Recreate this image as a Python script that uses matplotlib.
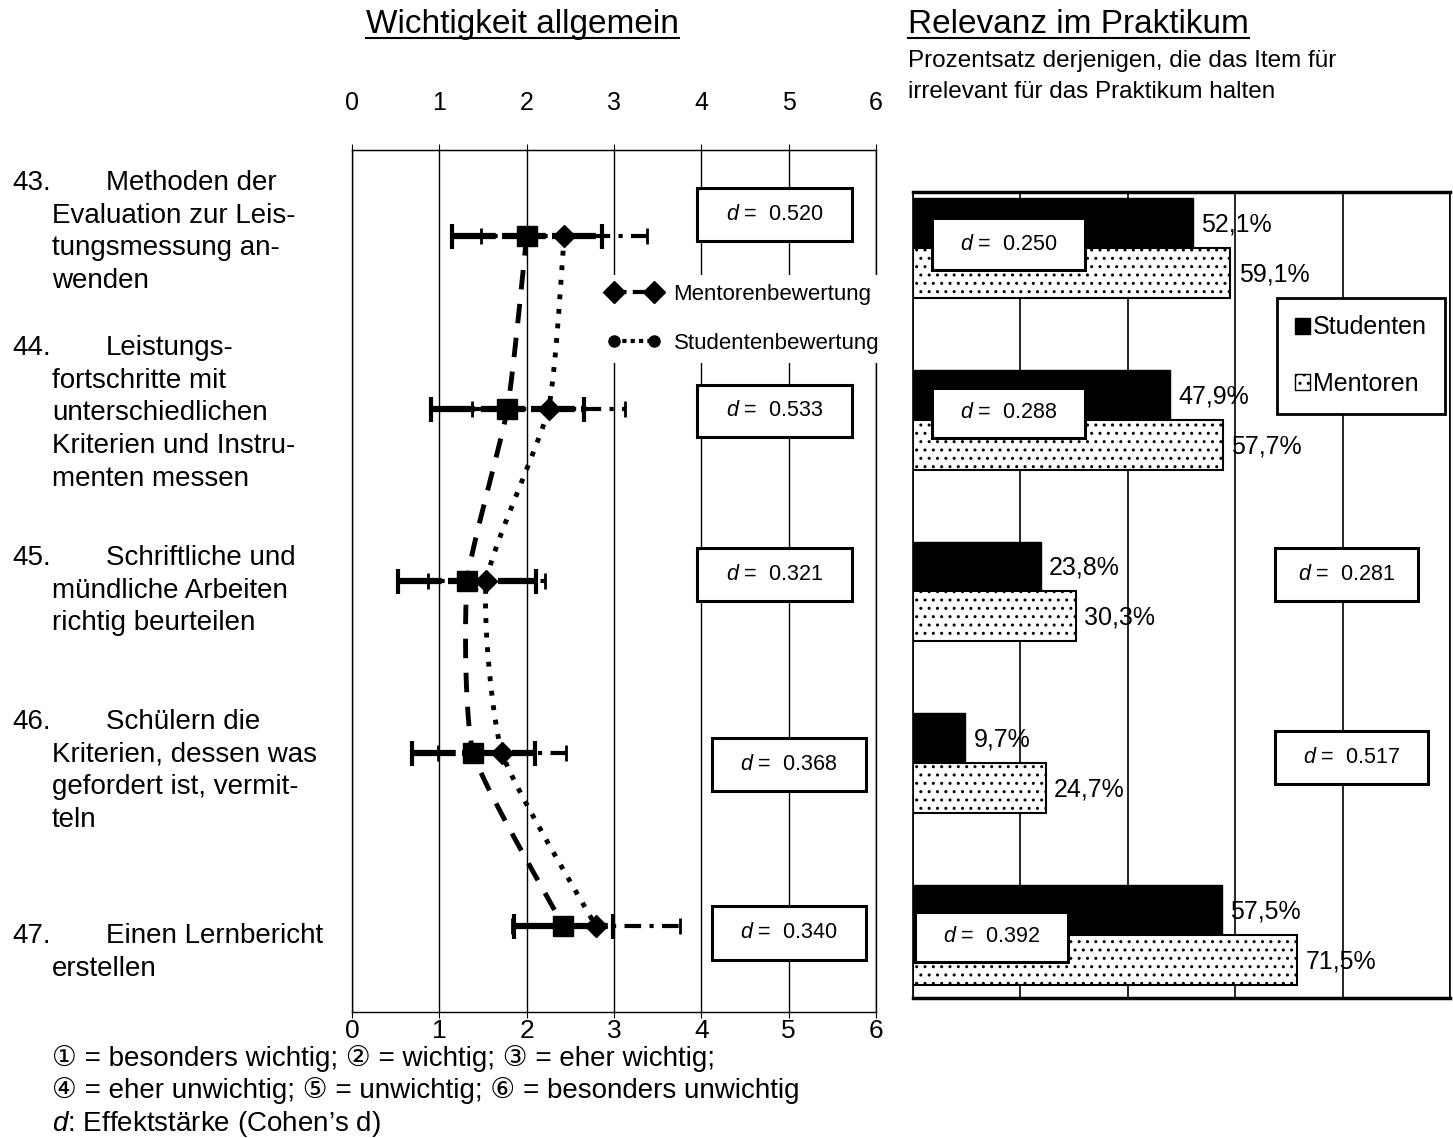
import matplotlib
matplotlib.use("Agg")
import matplotlib.pyplot as plt
import numpy as np
from matplotlib.lines import Line2D
from matplotlib.patches import Rectangle, Patch

# ---- data ---------------------------------------------------------------
item_no = ["43.", "44.", "45.", "46.", "47."]
item_lines = [
    ["Methoden der", "Evaluation zur Leis-", "tungsmessung an-", "wenden"],
    ["Leistungs-", "fortschritte mit", "unterschiedlichen",
     "Kriterien und Instru-", "menten messen"],
    ["Schriftliche und", "mündliche Arbeiten", "richtig beurteilen"],
    ["Schülern die", "Kriterien, dessen was", "gefordert ist, vermit-", "teln"],
    ["Einen Lernbericht", "erstellen"],
]
ment_mean = [2.00, 1.78, 1.32, 1.39, 2.42]
ment_sd   = [0.86, 0.88, 0.79, 0.70, 0.57]
stud_mean = [2.43, 2.25, 1.54, 1.72, 2.79]
stud_sd   = [0.95, 0.88, 0.67, 0.73, 0.96]
d_left    = ["0.520", "0.533", "0.321", "0.368", "0.340"]

stud_pct  = [52.1, 47.9, 23.8, 9.7, 57.5]
ment_pct  = [59.1, 57.7, 30.3, 24.7, 71.5]
d_right   = ["0.250", "0.288", "0.281", "0.517", "0.392"]

footnote = [
    "\u2460 = besonders wichtig; \u2461 = wichtig; \u2462 = eher wichtig;",
    "\u2463 = eher unwichtig; \u2464 = unwichtig; \u2465 = besonders unwichtig",
]

# ---- layout (pixel positions in the 1453x1138 canvas) -------------------
W, H = 1453, 1138
SANS = ["Liberation Sans", "DejaVu Sans", "Noto Sans CJK JP"]

plt.rcParams.update({
    "font.family": SANS,
    "mathtext.fontset": "custom",
    "mathtext.it": "Liberation Sans:italic",
    "mathtext.rm": "Liberation Sans",
    "hatch.linewidth": 1.0,
    "hatch.color": "black",
})

def fx(x):
    return x / W

def fy(y):
    return 1 - y / H

item_y = [183, 348, 558, 722, 936]
LINE = 32.7
dbox_left = [(697, 188, 852, 241), (697, 385, 852, 437), (697, 548, 852, 601),
             (712, 738, 866, 791), (712, 906, 866, 960)]
dbox_right = [(932, 218, 1085, 270), (932, 388, 1085, 438), (1275, 548, 1418, 601),
              (1275, 731, 1428, 784), (915, 912, 1068, 962)]

fig = plt.figure(figsize=(W / 100, H / 100), dpi=100)
fig.patch.set_facecolor("white")
axL = fig.add_axes([fx(352), fy(1012), fx(876) - fx(352), fy(150) - fy(1012)])
axR = fig.add_axes([fx(913), fy(998), fx(1450) - fx(913), fy(192) - fy(998)])

rows = np.arange(len(item_no))


def smooth(xs, ys, n=40, tension=0.45):
    # cardinal spline through the points (Excel-like smoothed line)
    P = np.column_stack([xs, ys]).astype(float)
    Q = np.vstack([P[0], P, P[-1]])
    t = np.linspace(0, 1, n)[:, None]
    h00 = 2 * t**3 - 3 * t**2 + 1
    h10 = t**3 - 2 * t**2 + t
    h01 = -2 * t**3 + 3 * t**2
    h11 = t**3 - t**2
    out = []
    for i in range(1, len(Q) - 2):
        m1 = (1 - tension) * (Q[i + 1] - Q[i - 1]) / 2
        m2 = (1 - tension) * (Q[i + 2] - Q[i]) / 2
        out.append(h00 * Q[i] + h10 * m1 + h01 * Q[i + 1] + h11 * m2)
    c = np.vstack(out)
    return c[:, 0], c[:, 1]


# ---- left panel ---------------------------------------------------------
axL.set_xlim(0, 6)
axL.set_ylim(len(rows) - 0.5, -0.5)
axL.set_xticks(range(7))
axL.set_yticks([])
axL.grid(axis="x", color="black", lw=1)
for s in axL.spines.values():
    s.set_linewidth(1)
axL.tick_params(axis="x", direction="out", length=4, pad=1, labelsize=19)
top = axL.secondary_xaxis("top")
top.set_xticks(range(7))
top.tick_params(length=4, pad=21, labelsize=18)

mx, my = smooth(ment_mean, rows)
axL.plot(mx, my, color="k", lw=3.5, ls=(0, (4, 3)), dash_capstyle="butt", zorder=3)
sx, sy = smooth(stud_mean, rows)
axL.plot(sx, sy, color="k", lw=3.5, ls=(0, (1, 2)), dash_capstyle="butt", zorder=3)

eb = axL.errorbar(stud_mean, rows, xerr=stud_sd, fmt="none", ecolor="k",
                  elinewidth=3, capsize=6, capthick=2, zorder=4)
eb[2][0].set_linestyle((0, (4, 2, 1, 2)))
eb = axL.errorbar(ment_mean, rows, xerr=ment_sd, fmt="none", ecolor="k",
                  elinewidth=4.5, capsize=9, capthick=3, zorder=5)
eb[2][0].set_linestyle((0, (7, 1)))
axL.plot(ment_mean, rows, "s", ms=15, color="k", zorder=6)
axL.plot(stud_mean, rows, "D", ms=11, color="k", zorder=6)

hM = Line2D([], [], color="k", lw=3, ls=(0, (3, 1.5)), marker="D", ms=11)
hS = Line2D([], [], color="k", lw=3, ls=(0, (1, 1)), marker="o", ms=8)
legL = axL.legend([hM, hS], ["Mentorenbewertung", "Studentenbewertung"],
                  loc="upper left", bbox_to_anchor=(fx(598), fy(275)),
                  bbox_transform=fig.transFigure, frameon=True, fancybox=False,
                  edgecolor="none", facecolor="white", framealpha=1, fontsize=16,
                  numpoints=2, handlelength=2.4, handletextpad=0.6,
                  labelspacing=1.25, borderpad=0.4, borderaxespad=0)
legL.set_zorder(8)

# ---- right panel --------------------------------------------------------
axR.set_xlim(0, 100)
axR.set_ylim(4.367, -0.326)
axR.set_xticks([0, 20, 40, 60, 80, 100])
axR.set_yticks([])
axR.grid(axis="x", color="black", lw=1.2)
axR.set_axisbelow(True)
axR.tick_params(length=0, labelbottom=False)
for k in ("top", "bottom"):
    axR.spines[k].set_linewidth(2.5)
for k in ("left", "right"):
    axR.spines[k].set_linewidth(1.2)

bh = 0.29
axR.barh(rows - bh / 2, stud_pct, height=bh, color="k", edgecolor="k", zorder=2)
axR.barh(rows + bh / 2, ment_pct, height=bh, color="white", edgecolor="k",
         hatch="..", lw=1.5, zorder=2)
for i in rows:
    for v, yy in ((stud_pct[i], rows[i] - bh / 2), (ment_pct[i], rows[i] + bh / 2)):
        axR.annotate(f"{v:.1f}%".replace(".", ","), (v, yy), xytext=(6, -1),
                     textcoords="offset points", ha="left", va="center",
                     fontsize=18, zorder=5)

legR = axR.legend([Patch(fc="k", ec="k"), Patch(fc="white", ec="k", hatch="..")],
                  ["Studenten", "Mentoren"], loc="upper left",
                  bbox_to_anchor=(fx(1277), fy(298)), bbox_transform=fig.transFigure,
                  frameon=True, fancybox=False, edgecolor="k", framealpha=1,
                  fontsize=18, handlelength=0.6, handleheight=0.6,
                  handletextpad=0.15, labelspacing=1.3,
                  borderpad=0.7, borderaxespad=0)
legR.get_frame().set_linewidth(2)


# ---- d boxes ------------------------------------------------------------
def dbox(box, val):
    x0, y0, x1, y1 = box
    fig.add_artist(Rectangle((fx(x0), fy(y1)), fx(x1) - fx(x0), fy(y0) - fy(y1),
                             transform=fig.transFigure, facecolor="white",
                             edgecolor="black", lw=2.2, zorder=10))
    fig.text(fx((x0 + x1) / 2), fy((y0 + y1) / 2), rf"$d$ =  {val}",
             ha="center", va="center", fontsize=15.5, zorder=11)


for b, v in zip(dbox_left, d_left):
    dbox(b, v)
for b, v in zip(dbox_right, d_right):
    dbox(b, v)

# ---- texts --------------------------------------------------------------
t1 = fig.text(fx(366), fy(33), "Wichtigkeit allgemein", fontsize=24, va="baseline")
t2 = fig.text(fx(908), fy(33), "Relevanz im Praktikum", fontsize=24, va="baseline")
fig.text(fx(908), fy(61), "Prozentsatz derjenigen, die das Item für",
         fontsize=17.5, va="center")
fig.text(fx(908), fy(92), "irrelevant für das Praktikum halten",
         fontsize=17.5, va="center")

for no, lines, y0 in zip(item_no, item_lines, item_y):
    fig.text(fx(12), fy(y0), no, fontsize=20, va="center")
    fig.text(fx(106), fy(y0), lines[0], fontsize=20, va="center")
    for j, ln in enumerate(lines[1:], start=1):
        fig.text(fx(52), fy(y0 + j * LINE), ln, fontsize=20, va="center")

for j, ln in enumerate(footnote):
    fig.text(fx(52), fy(1058 + j * 33), ln, fontsize=20, va="center")
fig.text(fx(52), fy(1124), r"$d$: Effektstärke (Cohen’s d)", fontsize=20, va="center")

# underline the two panel titles
fig.canvas.draw()
for t in (t1, t2):
    bb = t.get_window_extent()
    yb = fy(38)
    fig.add_artist(Line2D([bb.x0 / W, bb.x1 / W], [yb, yb], color="black", lw=1.5,
                          transform=fig.transFigure))

fig.savefig("out.png", dpi=100)
